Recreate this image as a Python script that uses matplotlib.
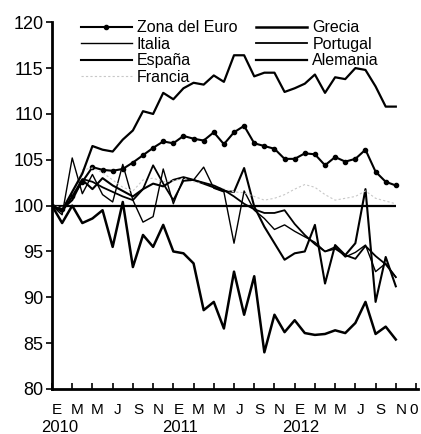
import numpy as np
import matplotlib
matplotlib.use("Agg")
import matplotlib.pyplot as plt

plt.rcParams['font.family'] = ['Liberation Sans', 'DejaVu Sans']

# monthly index, Jan 2010 .. Nov 2012
months = np.arange(35)

zona_euro = [100, 99.6, 101.0, 102.6, 104.2, 103.9, 103.8, 104.0, 104.7, 105.5,
             106.3, 107.0, 106.8, 107.6, 107.3, 107.1, 108.0, 106.7, 108.0, 108.7,
             106.8, 106.5, 106.2, 105.1, 105.1, 105.7, 105.6, 104.4, 105.3, 104.8,
             105.1, 106.1, 103.7, 102.6, 102.2]
grecia = [100, 98.1, 100.0, 98.1, 98.6, 99.5, 95.5, 100.4, 93.3, 96.8,
          95.5, 97.9, 95.0, 94.8, 93.7, 88.6, 89.5, 86.6, 92.8, 88.1,
          92.3, 84.0, 88.1, 86.2, 87.5, 86.1, 85.9, 86.0, 86.4, 86.1,
          87.2, 89.5, 86.0, 86.8, 85.4]
italia = [100, 99.0, 105.2, 101.3, 103.4, 101.2, 100.4, 104.5, 100.6, 98.2,
          98.8, 104.0, 100.2, 103.0, 102.8, 104.2, 101.9, 101.5, 95.9, 101.6,
          99.5, 98.6, 97.4, 97.9, 97.2, 96.6, 96.0, 95.0, 95.5, 94.4,
          94.9, 95.7, 92.8, 93.7, 92.2]
portugal = [100, 99.3, 101.0, 102.9, 102.6, 102.0, 101.5, 101.0, 100.6, 101.8,
            104.4, 102.4, 100.6, 102.7, 102.8, 102.5, 102.2, 101.7, 101.0, 100.2,
            99.6, 99.2, 99.2, 99.5, 98.0, 96.8, 95.8, 95.0, 95.3, 94.6,
            94.2, 95.6, 94.5, 93.6, 92.2]
espana = [100, 99.6, 100.6, 102.8, 101.8, 103.0, 102.2, 101.6, 101.0, 101.8,
          102.4, 102.1, 102.8, 103.1, 102.8, 102.4, 102.0, 101.6, 101.5, 104.1,
          99.9, 97.7, 95.9, 94.1, 94.8, 95.0, 97.9, 91.5, 95.7, 94.6,
          95.9, 101.8, 89.5, 94.4, 91.2]
alemania = [100, 99.5, 101.5, 103.5, 106.5, 106.1, 105.9, 107.2, 108.2, 110.3,
            110.0, 112.3, 111.6, 112.8, 113.4, 113.2, 114.2, 113.5, 116.4, 116.4,
            114.1, 114.5, 114.5, 112.4, 112.8, 113.3, 114.3, 112.3, 114.0, 113.8,
            115.0, 114.8, 113.0, 110.8, 110.8]
francia = [100, 99.8, 101.0, 103.9, 104.1, 103.6, 102.8, 102.0, 101.6, 102.8,
           103.0, 102.6, 102.7, 103.0, 102.6, 102.5, 102.2, 101.8, 101.5, 101.4,
           101.0, 100.6, 100.8, 101.2, 101.8, 102.3, 102.0, 101.2, 100.6, 100.8,
           101.0, 101.6, 100.8, 100.5, 100.2]

month_labels = ["E", "M", "M", "J", "S", "N"] * 3 + ["0"]
years = ["2010", "2011", "2012"]

fig = plt.figure(figsize=(4.21, 4.34), dpi=100)
ax = fig.add_axes([0.1235, 0.1037, 0.8695, 0.845])

ax.hlines(100, months[0], months[-1], color="black", linewidth=1.6, zorder=1)

ax.plot(months, zona_euro, color="black", linewidth=1.5, marker="o",
        markersize=3, label="Zona del Euro")
ax.plot(months, italia, color="black", linewidth=1.0, label="Italia")
ax.plot(months, espana, color="black", linewidth=1.5, label="España")
ax.plot(months, francia, color="#c8c8c8", linewidth=0.8, linestyle=(0, (2, 2)),
        label="Francia")
ax.plot(months, grecia, color="black", linewidth=1.8, label="Grecia")
ax.plot(months, portugal, color="black", linewidth=1.3, label="Portugal")
ax.plot(months, alemania, color="black", linewidth=1.6, label="Alemania")

ax.set_xlim(0, 36.2)
ax.set_ylim(80, 120)
ax.set_yticks(np.arange(80, 121, 5))
ax.tick_params(axis="y", labelsize=13, length=4, width=1.2, direction="out", pad=2)

ax.set_xticks(np.arange(0, 37, 2))
ax.set_xticklabels([])
ax.tick_params(axis="x", which="major", length=4, width=1.2, direction="in")
ax.set_xticks(np.arange(0.5, 36, 2).tolist() + [35.8], minor=True)
ax.set_xticklabels(month_labels, minor=True)
ax.tick_params(axis="x", which="minor", length=0, labelsize=11, pad=10)

for i, yr in enumerate(years):
    ax.annotate(yr, xy=(0.8 + 11.9 * i, 0), xycoords=("data", "axes fraction"),
                xytext=(0, -22.5), textcoords="offset points",
                ha="center", va="top", fontsize=12)

for side in ["top", "right"]:
    ax.spines[side].set_visible(False)
ax.spines["left"].set_linewidth(2)
ax.spines["bottom"].set_linewidth(2)

ax.legend(loc="upper left", bbox_to_anchor=(0.173, 0.972), bbox_transform=fig.transFigure,
          ncol=2, frameon=False, fontsize=11.5, handlelength=3.2, handletextpad=0.3,
          columnspacing=1.2, labelspacing=0.1, borderpad=0)

fig.savefig("out.png", dpi=100)
